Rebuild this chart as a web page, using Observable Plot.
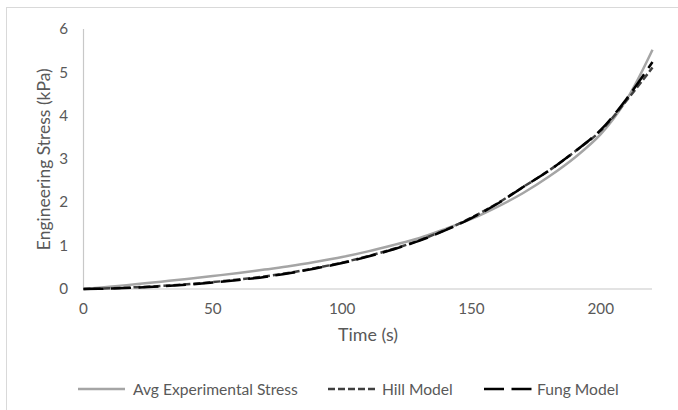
<!DOCTYPE html>
<html>
<head>
<meta charset="utf-8">
<script src="https://cdn.jsdelivr.net/npm/d3@7"></script>
<script src="https://cdn.jsdelivr.net/npm/@observablehq/plot@0.6"></script>
<style>
  html, body { margin: 0; padding: 0; background: #fff; }
  #wrap { position: relative; width: 678px; height: 410px; overflow: hidden; font-family: Lato, "Open Sans", sans-serif; color: #595959; }
  #frame { position: absolute; left: 6px; top: 7px; width: 700px; height: 420px; border-top: 1.5px solid #d9d9d9; border-left: 1.5px solid #d9d9d9; box-sizing: border-box; }
  #chart { position: absolute; left: 0; top: 0; }
  #legend { position: absolute; left: 0; top: 379px; width: 678px; height: 20px; }
  .item { position: absolute; top: 0; height: 20px; line-height: 20px; white-space: nowrap; }
</style>
</head>
<body>
<div id="wrap">
  <div id="frame"></div>
  <div id="chart"></div>
  <div id="legend"></div>
</div>
<script>
const time = [0,10,20,30,40,50,60,70,80,90,100,110,120,130,140,150,160,170,180,190,200,210,220];
const avgExperimental = [0,0.05,0.11,0.17,0.23,0.30,0.37,0.45,0.53,0.63,0.74,0.87,1.02,1.18,1.39,1.62,1.90,2.22,2.60,3.04,3.58,4.38,5.53];
const hillModel = [0,0.015,0.04,0.07,0.11,0.16,0.22,0.29,0.38,0.49,0.61,0.76,0.93,1.13,1.37,1.65,1.98,2.36,2.74,3.18,3.66,4.36,5.12];
const fungModel = [0,0.01,0.03,0.06,0.10,0.15,0.21,0.28,0.37,0.48,0.60,0.75,0.92,1.12,1.36,1.64,1.97,2.36,2.74,3.18,3.68,4.40,5.25];
const seriesNames = ["Avg Experimental Stress", "Hill Model", "Fung Model"];
const xTicks = [0,50,100,150,200];
const yTicks = [0,1,2,3,4,5,6];
const xTitle = "Time (s)";
const yTitle = "Engineering Stress (kPa)";

const styles = {
  "Avg Experimental Stress": {stroke: "#a5a5a5", dash: null},
  "Hill Model": {stroke: "#404040", dash: "7 3"},
  "Fung Model": {stroke: "#000000", dash: "20 7.5"}
};

const toRows = (vals, name) => time.map((t, i) => ({t, v: vals[i], series: name}));
const rows = {
  "Avg Experimental Stress": toRows(avgExperimental, seriesNames[0]),
  "Hill Model": toRows(hillModel, seriesNames[1]),
  "Fung Model": toRows(fungModel, seriesNames[2])
};

const fam = 'Lato, "Open Sans", sans-serif';
const ctx = document.createElement("canvas").getContext("2d");
function fit(text, target) {
  ctx.font = "100px " + fam;
  return 100 * target / ctx.measureText(text).width;
}
const legendFs = fit("Avg Experimental Stress", 165);
const yTitleFs = fit(yTitle, 182);
const xTitleFs = fit(xTitle, 60);
const tickFs = fit("150", 26.5);

const chart = Plot.plot({
  width: 678,
  height: 350,
  marginLeft: 83,
  marginRight: 26,
  marginTop: 29,
  marginBottom: 61.5,
  style: {fontFamily: fam, color: "#595959", background: "transparent", overflow: "visible"},
  x: {domain: [0, 220]},
  y: {domain: [0, 6]},
  marks: [
    Plot.ruleY([0], {stroke: "#c8c8c8", strokeWidth: 1.2}),
    Plot.ruleX([0], {stroke: "#c8c8c8", strokeWidth: 1.2}),
    Plot.axisX({ticks: xTicks, tickSize: 0, tickPadding: 14, tickFormat: d => String(d), label: null, fill: "#595959", fontSize: tickFs}),
    Plot.axisY({ticks: yTicks, tickSize: 0, tickPadding: 15.5, tickFormat: d => String(d), label: null, fill: "#595959", fontSize: tickFs}),
    Plot.text([xTitle], {frameAnchor: "bottom", dy: 51.5, text: d => d, fill: "#595959", fontSize: xTitleFs, textAnchor: "middle"}),
    Plot.text([yTitle], {frameAnchor: "left", dx: -39.5, rotate: -90, text: d => d, fill: "#595959", fontSize: yTitleFs, textAnchor: "middle"}),
    ...seriesNames.map(name => Plot.line(rows[name], {
      x: "t", y: "v",
      stroke: styles[name].stroke,
      strokeWidth: 2.5,
      strokeDasharray: styles[name].dash,
      strokeLinecap: "butt",
      curve: "catmull-rom"
    }))
  ]
});
document.getElementById("chart").appendChild(chart);

// Legend
const legend = document.getElementById("legend");
legend.style.fontSize = legendFs + "px";
const legendLayout = [
  {name: seriesNames[0], x: 78, w: 47, textX: 133},
  {name: seriesNames[1], x: 328, w: 50, textX: 382},
  {name: seriesNames[2], x: 484, w: 49, textX: 537}
];
legendLayout.forEach(l => {
  const s = styles[l.name];
  const sw = document.createElementNS("http://www.w3.org/2000/svg", "svg");
  sw.setAttribute("width", l.w);
  sw.setAttribute("height", 20);
  sw.style.position = "absolute";
  sw.style.left = l.x + "px";
  sw.style.top = "0px";
  const ln = document.createElementNS("http://www.w3.org/2000/svg", "line");
  ln.setAttribute("x1", 0); ln.setAttribute("x2", l.w);
  ln.setAttribute("y1", 10); ln.setAttribute("y2", 10);
  ln.setAttribute("stroke", s.stroke);
  ln.setAttribute("stroke-width", 2.5);
  if (s.dash) ln.setAttribute("stroke-dasharray", s.dash);
  sw.appendChild(ln);
  legend.appendChild(sw);
  const tx = document.createElement("div");
  tx.className = "item";
  tx.style.left = l.textX + "px";
  tx.textContent = l.name;
  legend.appendChild(tx);
});
</script>
</body>
</html>
